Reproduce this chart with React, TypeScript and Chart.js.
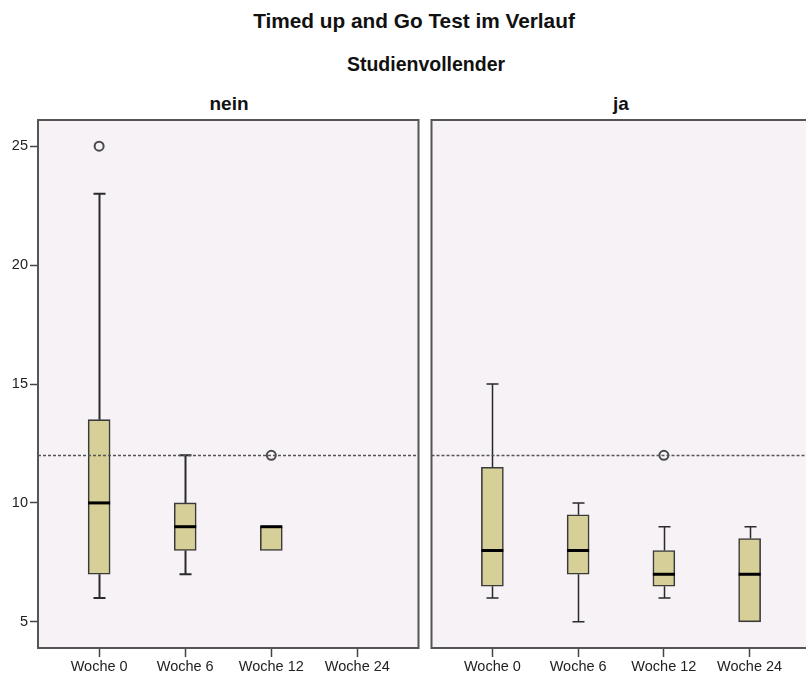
import React, { useEffect, useRef } from "react";
import { Chart, registerables } from "chart.js";

Chart.register(...registerables);

const CATEGORIES = ["Woche 0", "Woche 6", "Woche 12", "Woche 24"];
const Y_TICKS = [5, 10, 15, 20, 25];
const REFERENCE_LINE = 12;

// Panel "nein"
const NEIN_MIN: (number | null)[] = [6, 7, 8, null];
const NEIN_Q1: (number | null)[] = [7, 8, 8, null];
const NEIN_MEDIAN: (number | null)[] = [10, 9, 9, null];
const NEIN_Q3: (number | null)[] = [13.5, 10, 9, null];
const NEIN_MAX: (number | null)[] = [23, 12, 9, null];
const NEIN_OUTLIERS: number[][] = [[25], [], [12], []];

// Panel "ja"
const JA_MIN: (number | null)[] = [6, 5, 6, 5];
const JA_Q1: (number | null)[] = [6.5, 7, 6.5, 5];
const JA_MEDIAN: (number | null)[] = [8, 8, 7, 7];
const JA_Q3: (number | null)[] = [11.5, 9.5, 8, 8.5];
const JA_MAX: (number | null)[] = [15, 10, 9, 9];
const JA_OUTLIERS: number[][] = [[], [], [12], []];

const FONT = "'Liberation Sans', Arial, Helvetica, sans-serif";
const BOX_FILL = "rgb(214,207,151)";
const BOX_BORDER = "#3a3a3a";
const PLOT_BG = "rgb(246,242,246)";
const FRAME = "#555";

type Stats = {
  min: (number | null)[];
  q1: (number | null)[];
  med: (number | null)[];
  q3: (number | null)[];
  max: (number | null)[];
  out: number[][];
};

function makeChart(canvas: HTMLCanvasElement, s: Stats, showY: boolean, whiskerW: number, pad: any) {
  const boxData = CATEGORIES.map((_, i) => i)
    .filter((i) => s.q1[i] != null)
    .map((i) => ({ x: i, y: [s.q1[i] as number, s.q3[i] as number] }));
  const outData: { x: number; y: number }[] = [];
  s.out.forEach((arr, i) => arr.forEach((v) => outData.push({ x: i, y: v })));

  const bgPlugin = {
    id: "bg",
    beforeDatasetsDraw(chart: any) {
      const { ctx, chartArea: a } = chart;
      ctx.save();
      ctx.fillStyle = PLOT_BG;
      ctx.fillRect(a.left, a.top, a.right - a.left, a.bottom - a.top);
      ctx.restore();
    },
  };

  const boxPlugin = {
    id: "boxparts",
    afterDatasetsDraw(chart: any) {
      const { ctx, chartArea: a, scales } = chart;
      const xs = scales.x;
      const ys = scales.y;
      ctx.save();
      // whiskers
      ctx.strokeStyle = "#2a2a2a";
      ctx.lineWidth = whiskerW;
      for (let i = 0; i < CATEGORIES.length; i++) {
        if (s.q1[i] == null) continue;
        const cx = Math.round(xs.getPixelForValue(i)) + 0.5;
        const capHalf = 6;
        const pairs: [number, number][] = [
          [s.q3[i] as number, s.max[i] as number],
          [s.q1[i] as number, s.min[i] as number],
        ];
        pairs.forEach(([from, to]) => {
          if (to === from) return;
          const y0 = ys.getPixelForValue(from);
          const y1 = ys.getPixelForValue(to);
          ctx.beginPath();
          ctx.moveTo(cx, y0);
          ctx.lineTo(cx, y1);
          ctx.moveTo(cx - capHalf, y1);
          ctx.lineTo(cx + capHalf, y1);
          ctx.stroke();
        });
      }
      // medians
      ctx.strokeStyle = "#000";
      ctx.lineWidth = 3;
      for (let i = 0; i < CATEGORIES.length; i++) {
        if (s.med[i] == null) continue;
        const cx = xs.getPixelForValue(i);
        const y = ys.getPixelForValue(s.med[i] as number);
        ctx.beginPath();
        ctx.moveTo(cx - 11, y);
        ctx.lineTo(cx + 11, y);
        ctx.stroke();
      }
      // reference line
      const ry = Math.round(ys.getPixelForValue(REFERENCE_LINE)) + 0.5;
      ctx.strokeStyle = "#555";
      ctx.lineWidth = 1.4;
      ctx.setLineDash([3, 2]);
      ctx.beginPath();
      ctx.moveTo(a.left, ry);
      ctx.lineTo(a.right, ry);
      ctx.stroke();
      ctx.setLineDash([]);
      // frame
      ctx.strokeStyle = FRAME;
      ctx.lineWidth = 2;
      ctx.strokeRect(a.left, a.top, a.right - a.left, a.bottom - a.top);
      ctx.restore();
    },
  };

  return new Chart(canvas, {
    type: "bar",
    data: {
      datasets: [
        {
          type: "bar",
          data: boxData as any,
          backgroundColor: BOX_FILL,
          borderColor: BOX_BORDER,
          borderWidth: 1.6,
          borderSkipped: false,
          barThickness: 22,
          grouped: false,
        } as any,
        {
          type: "scatter",
          data: outData,
          pointRadius: 4.5,
          pointBorderWidth: 2,
          pointBackgroundColor: "rgba(0,0,0,0)",
          pointBorderColor: "#4a4a4a",
          order: -1,
        } as any,
      ],
    },
    options: {
      responsive: false,
      animation: false,
      devicePixelRatio: 1,
      layout: { padding: pad },
      plugins: { legend: { display: false }, tooltip: { enabled: false }, title: { display: false } },
      scales: {
        x: {
          type: "linear",
          offset: false,
          min: -0.71,
          max: 3.71,
          afterBuildTicks: (scale: any) => {
            scale.ticks = CATEGORIES.map((_, i) => ({ value: i }));
          },
          afterFit: (scale: any) => {
            scale.height = 29;
          },
          ticks: {
            autoSkip: false,
            maxRotation: 0,
            padding: 1,
            color: "#222",
            font: { family: FONT, size: 14.5 },
            callback: (v: any) => CATEGORIES[v] ?? "",
          },
          grid: {
            offset: false,
            drawOnChartArea: false,
            drawTicks: true,
            tickLength: 9,
            tickColor: "#444",
            tickWidth: 1.5,
          },
          border: { display: false },
        },
        y: {
          type: "linear",
          display: showY ? true : false,
          min: 3.9,
          max: 26.1,
          afterBuildTicks: (scale: any) => {
            scale.ticks = Y_TICKS.map((v) => ({ value: v }));
          },
          afterFit: (scale: any) => {
            scale.width = showY ? 38 : 0;
          },
          ticks: {
            padding: 2,
            color: "#222",
            font: { family: FONT, size: 14.5 },
          },
          grid: { drawOnChartArea: false, drawTicks: true, tickLength: 8, tickColor: "#444", tickWidth: 1.5 },
          border: { display: false },
        },
      },
    },
    plugins: [bgPlugin, boxPlugin],
  } as any);
}

const titleStyle = (x: number, y: number, size: number): React.CSSProperties => ({
  position: "absolute",
  left: x,
  top: y,
  transform: "translate(-50%, -50%)",
  fontFamily: FONT,
  fontWeight: "bold",
  fontSize: size,
  lineHeight: 1,
  whiteSpace: "nowrap",
  color: "#111",
});

export default function App() {
  const leftRef = useRef<HTMLCanvasElement>(null);
  const rightRef = useRef<HTMLCanvasElement>(null);

  useEffect(() => {
    const left = makeChart(
      leftRef.current!,
      { min: NEIN_MIN, q1: NEIN_Q1, med: NEIN_MEDIAN, q3: NEIN_Q3, max: NEIN_MAX, out: NEIN_OUTLIERS },
      true,
      2,
      { top: 20, right: 5, left: 0, bottom: 0 }
    );
    const right = makeChart(
      rightRef.current!,
      { min: JA_MIN, q1: JA_Q1, med: JA_MEDIAN, q3: JA_Q3, max: JA_MAX, out: JA_OUTLIERS },
      false,
      1.5,
      { top: 20, right: 5, left: 5, bottom: 0 }
    );
    return () => {
      left.destroy();
      right.destroy();
    };
  }, []);

  return (
    <div
      style={{
        position: "absolute",
        left: 0,
        top: 0,
        width: 806,
        height: 677,
        overflow: "hidden",
        background: "#fff",
      }}
    >
      <div style={titleStyle(414, 21, 20.8)}>Timed up and Go Test im Verlauf</div>
      <div style={titleStyle(426, 65, 19.5)}>Studienvollender</div>
      <div style={titleStyle(229, 103, 19)}>nein</div>
      <div style={titleStyle(621, 103, 19)}>ja</div>
      <canvas ref={leftRef} width={425} height={577} style={{ position: "absolute", left: 0, top: 100 }} />
      <canvas ref={rightRef} width={392} height={577} style={{ position: "absolute", left: 425, top: 100 }} />
    </div>
  );
}
